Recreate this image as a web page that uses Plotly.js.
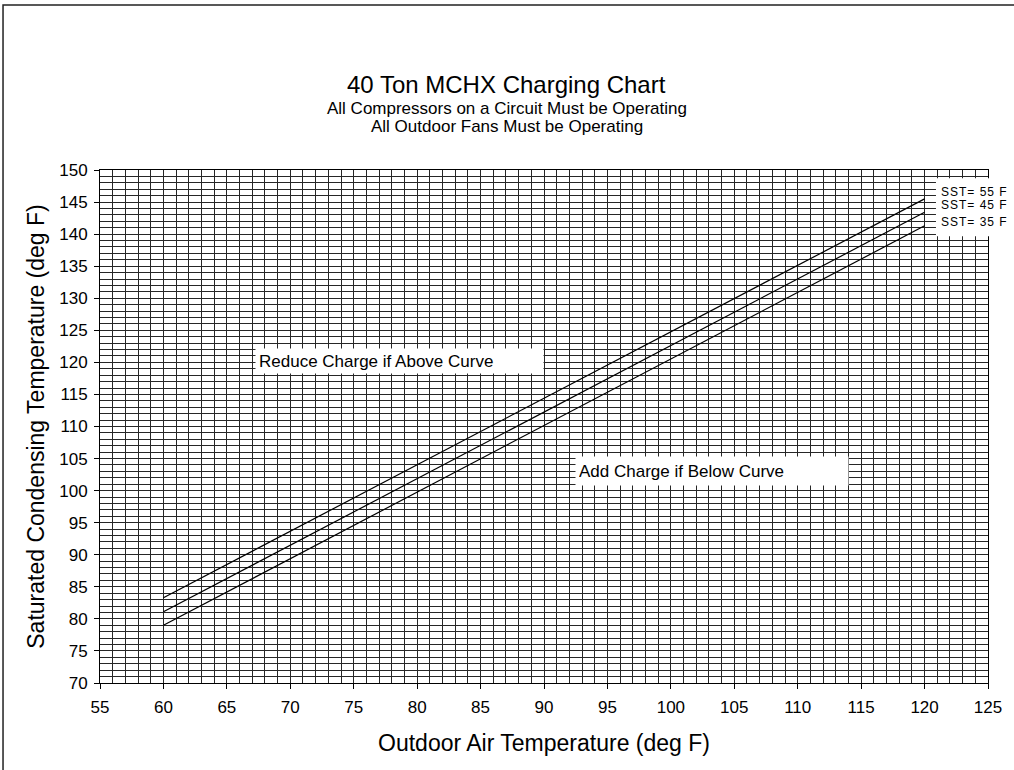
<!DOCTYPE html>
<html>
<head>
<meta charset="utf-8">
<script src="https://cdn.plot.ly/plotly-3.0.1.min.js"></script>
<style>
  html, body { margin: 0; padding: 0; background: #fff; }
  #chart { width: 1014px; height: 770px; }
  .sst-label text { letter-spacing: 1px; }
</style>
</head>
<body>
<div id="chart"></div>
<script>
// Data
const outdoorTemp = [60, 85, 120];
const sst55 = [83.3, 109.2, 145.5];
const sst45 = [81.1, 107.1, 143.4];
const sst35 = [79.0, 105.0, 141.3];
const seriesNames = ['SST= 55 F', 'SST= 45 F', 'SST= 35 F'];
const xTicks = [55, 60, 65, 70, 75, 80, 85, 90, 95, 100, 105, 110, 115, 120, 125];
const yTicks = [70, 75, 80, 85, 90, 95, 100, 105, 110, 115, 120, 125, 130, 135, 140, 145, 150];

const titleText = '40 Ton MCHX Charging Chart';
const subTitle1 = 'All Compressors on a Circuit Must be Operating';
const subTitle2 = 'All Outdoor Fans Must be Operating';
const noteAbove = 'Reduce Charge if Above Curve';
const noteBelow = 'Add Charge if Below Curve';

const font = '"Liberation Sans", Arial, sans-serif';
const allSeries = [sst55, sst45, sst35];

const traces = allSeries.map((ys, i) => ({
  x: outdoorTemp, y: ys, name: seriesNames[i], type: 'scatter', mode: 'lines',
  line: {color: '#000', width: 1.2}, showlegend: false, hoverinfo: 'skip'
}));

const gridColor = '#262626';
const axisCommon = {
  showline: true, linecolor: '#000', linewidth: 1, mirror: true,
  ticks: 'outside', ticklen: 5, tickcolor: '#000', tickwidth: 1,
  tickfont: {family: font, size: 17, color: '#000'},
  showgrid: true, gridcolor: gridColor, gridwidth: 1,
  zeroline: false, tickmode: 'array',
  minor: {dtick: 1, showgrid: true, gridcolor: gridColor, gridwidth: 1, ticks: ''}
};

const sstY = [0.958, 0.9318, 0.8986];

const annotations = [
  {text: titleText, xref: 'paper', yref: 'paper', x: 0.4583, y: 1.1657, showarrow: false,
   xanchor: 'center', yanchor: 'middle', font: {family: font, size: 24, color: '#000'}},
  {text: subTitle1, xref: 'paper', yref: 'paper', x: 0.4583, y: 1.119, showarrow: false,
   xanchor: 'center', yanchor: 'middle', font: {family: font, size: 17, color: '#000'}},
  {text: subTitle2, xref: 'paper', yref: 'paper', x: 0.4583, y: 1.0855, showarrow: false,
   xanchor: 'center', yanchor: 'middle', font: {family: font, size: 17, color: '#000'}},
  {text: noteAbove, xref: 'x', yref: 'y', x: 67.2, y: 120.2, showarrow: false,
   xanchor: 'left', yanchor: 'middle', align: 'left', width: 281, height: 18, borderpad: 3,
   bgcolor: '#fff', font: {family: font, size: 17, color: '#000'}},
  {text: noteBelow, xref: 'x', yref: 'y', x: 92.44, y: 103.0, showarrow: false,
   xanchor: 'left', yanchor: 'middle', align: 'left', width: 266, height: 22, borderpad: 3,
   bgcolor: '#fff', font: {family: font, size: 17, color: '#000'}}
];
seriesNames.forEach((n, i) => {
  annotations.push({text: n, xref: 'paper', yref: 'paper', x: 0.9448, y: sstY[i], showarrow: false,
    xanchor: 'left', yanchor: 'middle', align: 'left', font: {family: font, size: 12, color: '#000'}});
});

const layout = {
  width: 1014, height: 770,
  margin: {l: 100, r: 26, t: 170, b: 87, pad: 0},
  paper_bgcolor: '#fff', plot_bgcolor: '#fff',
  showlegend: false,
  font: {family: font, color: '#000'},
  xaxis: Object.assign({}, axisCommon, {
    range: [55, 125], tickvals: xTicks, ticktext: xTicks.map(String), ticklabelstandoff: 4,
    title: {text: 'Outdoor Air Temperature (deg F)', font: {family: font, size: 23, color: '#000'}, standoff: 18}
  }),
  yaxis: Object.assign({}, axisCommon, {
    range: [70, 150], tickvals: yTicks, ticktext: yTicks.map(String), ticklabelstandoff: 3,
    title: {text: 'Saturated Condensing Temperature (deg F)', font: {family: font, size: 23, color: '#000'}, standoff: 8}
  }),
  shapes: [
    {type: 'rect', xref: 'paper', yref: 'paper', x0: 0.9414, x1: 1.04, y0: 0.871, y1: 0.984,
     fillcolor: '#fff', line: {width: 0}, layer: 'above'},
    {type: 'rect', xref: 'paper', yref: 'paper', x0: -0.1092, x1: 1.06, y0: -0.25, y1: 1.3216,
     fillcolor: 'rgba(0,0,0,0)', line: {color: '#222', width: 1.5}, layer: 'above'}
  ],
  annotations: annotations
};

Plotly.newPlot('chart', traces, layout, {displayModeBar: false, staticPlot: true}).then(() => {
  document.querySelectorAll('.annotation').forEach(el => {
    const idx = +el.getAttribute('data-index');
    if (idx >= 5) el.classList.add('sst-label');
  });
});
</script>
</body>
</html>
